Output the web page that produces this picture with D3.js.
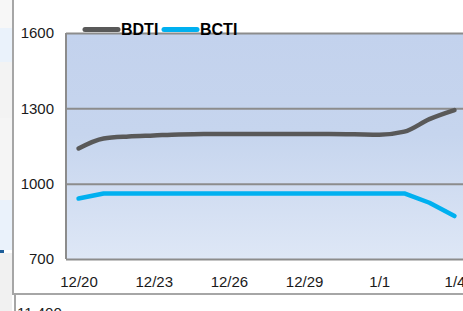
<!DOCTYPE html>
<html>
<head>
<meta charset="utf-8">
<script src="https://cdn.jsdelivr.net/npm/d3@7"></script>
<style>
  body { margin: 0; background: #fff; }
  svg { display: block; }
  text { font-family: "Liberation Sans Narrow", "Arial Narrow", "Liberation Sans", sans-serif; }
</style>
</head>
<body>
<svg id="chart" width="463" height="311"></svg>
<script>
// данные
const dates = ["12/20", "12/21", "12/22", "12/23", "12/24", "12/25", "12/26", "12/27",
               "12/28", "12/29", "12/30", "12/31", "1/1", "1/2", "1/3", "1/4"];
const bdti = [1140, 1180, 1188, 1192, 1196, 1198, 1198, 1198,
              1198, 1198, 1198, 1197, 1195, 1207, 1257, 1293];
const bcti = [941, 961, 961, 961, 961, 961, 961, 961,
              961, 961, 961, 961, 961, 961, 924, 871];
const seriesNames = ["BDTI", "BCTI"];
const yTicks = [700, 1000, 1300, 1600];
const xTicks = ["12/20", "12/23", "12/26", "12/29", "1/1", "1/4"];

const colors = ["#595959", "#00b0f0"];

let svg = d3.select("#chart");

// параметры области графика
let area = { left: 66, right: 467, top: 33, bottom: 259 };

// фон слева (кусок соседнего окна)
const stripe = [[0, 28, "#f7f7f7"], [28, 62, "#eaf2fb"], [62, 118, "#f3f3f3"], [118, 200, "#f5f5f5"],
                [200, 250, "#eaf2fb"], [253, 311, "#f1f1f1"]];
svg.selectAll(".strip").data(stripe).enter().append("rect")
    .attr("x", 0).attr("width", 12)
    .attr("y", d => d[0]).attr("height", d => d[1] - d[0])
    .style("fill", d => d[2]);
svg.append("rect").attr("x", 0).attr("y", 250).attr("width", 4).attr("height", 3).style("fill", "#1f5f9a");

// рамка окна
svg.append("path")
    .attr("d", "M13,0V294H463")
    .style("fill", "none").style("stroke", "#a6a6a6").style("stroke-width", 2);
svg.append("path")
    .attr("d", "M15,295V311")
    .style("fill", "none").style("stroke", "#a6a6a6").style("stroke-width", 2);
svg.append("text")
    .attr("x", 17).attr("y", 318)
    .style("font-size", "15px").style("fill", "#222")
    .text("11,400");

// шкалы
let scaleX = d3.scalePoint()
    .domain(dates)
    .range([area.left, area.right])
    .padding(0.5);

let scaleY = d3.scaleLinear()
    .domain([700, 1600])
    .range([area.bottom, area.top]);

// градиент фона
let defs = svg.append("defs");
let grad = defs.append("linearGradient")
    .attr("id", "bg").attr("x1", 0).attr("y1", 0).attr("x2", 0).attr("y2", 1);
grad.append("stop").attr("offset", "0%").attr("stop-color", "#c3d2ed");
grad.append("stop").attr("offset", "45%").attr("stop-color", "#c6d5ee");
grad.append("stop").attr("offset", "100%").attr("stop-color", "#dee7f6");

svg.append("rect")
    .attr("x", area.left).attr("y", area.top)
    .attr("width", area.right - area.left).attr("height", area.bottom - area.top)
    .style("fill", "url(#bg)");

// ось Y с сеткой
let axisY = d3.axisLeft(scaleY)
    .tickValues(yTicks)
    .tickFormat(d3.format("d"))
    .tickSize(-(area.right - area.left))
    .tickPadding(12);
let gY = svg.append("g")
    .attr("transform", `translate(${area.left}, 0)`)
    .call(axisY);
gY.select(".domain").remove();
gY.selectAll("line").style("stroke", "#8c8c8c").style("stroke-width", 2);
gY.selectAll("text").style("font-size", "15px").style("fill", "#1a1a1a")
    .style("font-family", "'Liberation Sans Narrow', 'Arial Narrow', sans-serif");

// левая граница
svg.append("line")
    .attr("x1", area.left).attr("x2", area.left)
    .attr("y1", area.top).attr("y2", area.bottom)
    .style("stroke", "#8c8c8c").style("stroke-width", 2);

// ось X
let axisX = d3.axisBottom(scaleX)
    .tickValues(xTicks)
    .tickSize(0)
    .tickPadding(17);
let gX = svg.append("g")
    .attr("transform", `translate(0, ${area.bottom})`)
    .call(axisX);
gX.select(".domain").remove();
gX.selectAll("text").style("font-size", "15px").style("fill", "#1a1a1a")
    .style("font-family", "'Liberation Sans Narrow', 'Arial Narrow', sans-serif");

// линии
const series = [bdti, bcti];
const curves = [d3.curveMonotoneX, d3.curveLinear];
series.forEach((vals, i) => {
    let line = d3.line()
        .x((d, j) => scaleX(dates[j]))
        .y(d => scaleY(d))
        .curve(curves[i]);
    svg.append("path")
        .datum(vals)
        .attr("d", line)
        .style("fill", "none")
        .style("stroke", colors[i])
        .style("stroke-width", 4.5)
        .style("stroke-linecap", "round")
        .style("stroke-linejoin", "round");
});

// легенда
const legendX = [85, 164];
seriesNames.forEach((name, i) => {
    svg.append("line")
        .attr("x1", legendX[i]).attr("x2", legendX[i] + 33)
        .attr("y1", 29.5).attr("y2", 29.5)
        .style("stroke", colors[i]).style("stroke-width", 5)
        .style("stroke-linecap", "round");
    svg.append("text")
        .attr("x", legendX[i] + 36).attr("y", 35)
        .style("font-size", "16px").style("font-weight", "bold").style("fill", "#000")
        .text(name);
});
</script>
</body>
</html>
